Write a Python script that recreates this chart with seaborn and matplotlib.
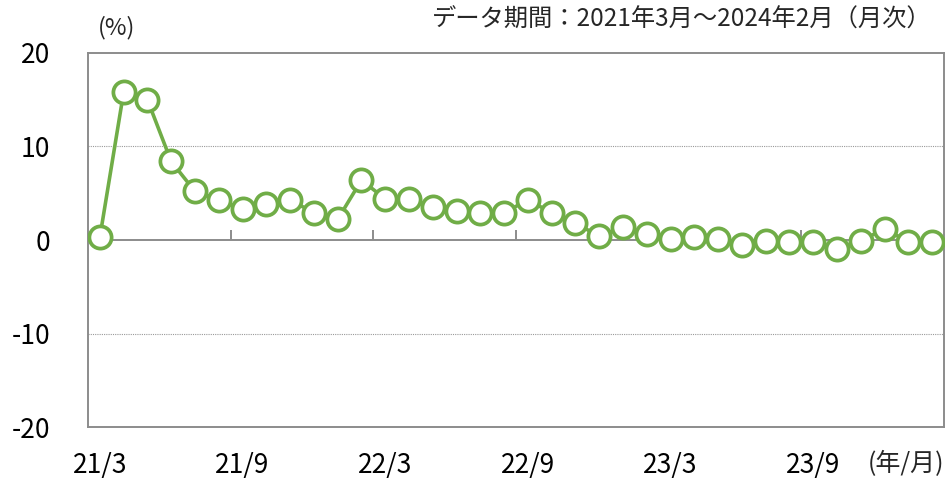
import numpy as np
import pandas as pd
import matplotlib
matplotlib.use("Agg")
import matplotlib.pyplot as plt
import seaborn as sns

months = pd.date_range("2021-03-01", "2024-02-01", freq="MS")
values = [0.3, 15.8, 15.0, 8.4, 5.2, 4.3, 3.3, 3.9, 4.3, 2.9, 2.2, 6.4,
          4.4, 4.4, 3.5, 3.1, 2.9, 2.9, 4.3, 2.9, 1.8, 0.4, 1.4, 0.6,
          0.1, 0.3, 0.1, -0.5, -0.1, -0.2, -0.2, -1.0, -0.1, 1.2, -0.2, -0.2]
xtick_labels = ["21/3", "21/9", "22/3", "22/9", "23/3", "23/9"]
yticks = [-20, -10, 0, 10, 20]
title_text = "データ期間：2021年3月～2024年2月（月次）"

sns.set_theme(style="white")
plt.rcParams['font.family'] = ['Noto Sans CJK JP', 'DejaVu Sans']

df = pd.DataFrame({"idx": np.arange(len(values)), "value": values})

fig = plt.figure(figsize=(9.53, 4.8), dpi=100)
ax = fig.add_axes([0.0923, 0.1104, 0.8983, 0.7792])

green = "#70AD47"
grey = "#8C8C8C"

sns.lineplot(data=df, x="idx", y="value", ax=ax, color=green, linewidth=2.6,
             marker="o", markersize=16, markerfacecolor="white",
             markeredgecolor=green, markeredgewidth=2.7, zorder=5)

ax.set_xlim(-0.5, len(values) - 0.5)
ax.set_ylim(-20, 20)
ax.set_yticks(yticks)
ax.set_yticklabels([str(v) for v in yticks])
ax.set_xticks(np.arange(0, len(values), 6))
ax.set_xticklabels(xtick_labels)
ax.set_xlabel("")
ax.set_ylabel("")
ax.tick_params(axis="both", length=0, labelsize=19, colors="black")
ax.tick_params(axis="y", pad=27)
ax.tick_params(axis="x", pad=18)

for s in ax.spines.values():
    s.set_color(grey)
    s.set_linewidth(1.4)

for yv in [10, -10]:
    ax.axhline(yv, color="#9A9A9A", linewidth=0.8, linestyle=(0, (1, 1)), zorder=1)
ax.axhline(0, color=grey, linewidth=1.4, zorder=2)
ax.vlines(np.arange(5.5, len(values) - 1, 6), 0, 1.1, color=grey, linewidth=1.4, zorder=2)

fig.text(0.122, 0.942, "(%)", fontsize=17, ha="center", va="center")
fig.text(0.977, 0.958, title_text, fontsize=17.5, ha="right", va="center")
fig.text(0.951, 0.034, "(年/月)", fontsize=18, ha="center", va="center")

fig.savefig("out.png", dpi=100)
